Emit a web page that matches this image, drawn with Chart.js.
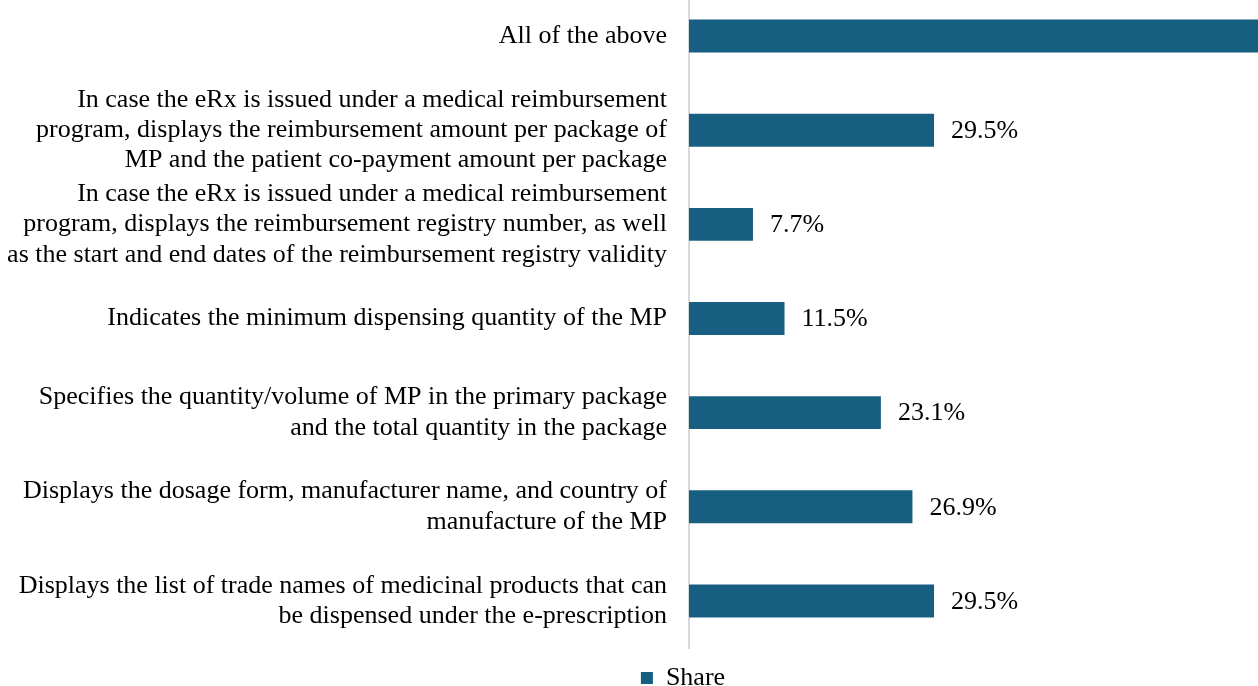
<!DOCTYPE html>
<html>
<head>
<meta charset="utf-8">
<script src="https://cdn.jsdelivr.net/npm/chart.js@4/dist/chart.umd.min.js"></script>
<style>
    html, body { margin: 0; padding: 0; background: #fff; overflow: hidden; width: 1258px; height: 686px; }
    #wrap { position: absolute; left: 0; top: -11px; }
</style>
</head>
<body>
<div id="wrap"><canvas id="chart-share" width="1366" height="712"></canvas></div>
<script>
// eRx features, listed top to bottom
const categories = [
    'All of the above',
    ['In case the eRx is issued under a medical reimbursement',
     'program, displays the reimbursement amount per package of',
     'MP and the patient co-payment amount per package'],
    ['In case the eRx is issued under a medical reimbursement',
     'program, displays the reimbursement registry number, as well',
     'as the start and end dates of the reimbursement registry validity'],
    'Indicates the minimum dispensing quantity of the MP',
    ['Specifies the quantity/volume of MP in the primary package',
     'and the total quantity in the package'],
    ['Displays the dosage form, manufacturer name, and country of',
     'manufacture of the MP'],
    ['Displays the list of trade names of medicinal products that can',
     'be dispensed under the e-prescription']
];
const shares = [70.5, 29.5, 7.7, 11.5, 23.1, 26.9, 29.5];
const seriesName = 'Share';

const FONT = '"Liberation Serif", "Times New Roman", serif';
const BAR_COLOR = '#175f80';

// writes "xx.x%" just past the end of each bar
const valueLabels = {
    id: 'valueLabels',
    afterDatasetsDraw(chart) {
        const ctx = chart.ctx;
        const meta = chart.getDatasetMeta(0);
        ctx.save();
        ctx.font = '26px ' + FONT;
        ctx.fillStyle = '#000';
        ctx.textAlign = 'left';
        ctx.textBaseline = 'middle';
        meta.data.forEach((bar, i) => {
            ctx.fillText(shares[i].toFixed(1) + '%', bar.x + 17, bar.y + 1);
        });
        ctx.restore();
    }
};

new Chart(document.getElementById('chart-share'), {
    type: 'bar',
    data: {
        labels: categories,
        datasets: [{
            label: seriesName,
            data: shares,
            backgroundColor: BAR_COLOR,
            barPercentage: 0.35,
            categoryPercentage: 1.0
        }]
    },
    options: {
        indexAxis: 'y',
        responsive: false,
        animation: false,
        devicePixelRatio: 1,
        layout: { padding: 0 },
        plugins: {
            legend: {
                position: 'bottom',
                labels: {
                    color: '#000',
                    boxWidth: 12,
                    boxHeight: 12,
                    padding: 17,
                    font: { family: FONT, size: 26 }
                }
            },
            tooltip: { enabled: false }
        },
        scales: {
            x: {
                display: false,
                min: 0,
                max: 81.5
            },
            y: {
                afterFit(scale) {
                    // fixed label column, no extra room for the multi-line end labels
                    scale.width = 689;
                    scale.paddingTop = 0;
                    scale.paddingBottom = 0;
                },
                grid: { display: false, drawTicks: false },
                border: { display: true, color: '#d9d9d9', width: 2 },
                ticks: {
                    color: '#000',
                    padding: 22,
                    autoSkip: false,
                    font: { family: FONT, size: 26, lineHeight: 1.17 }
                }
            }
        }
    },
    plugins: [valueLabels]
});
</script>
</body>
</html>
